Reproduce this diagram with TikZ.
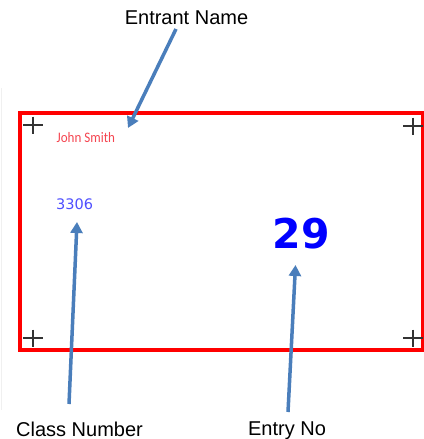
\documentclass[tikz,border=0pt]{standalone}
\usepackage{fontspec}
\setmainfont{Liberation Sans}
\newfontfamily\carlitofont{Carlito}
\newfontfamily\dejavufont{DejaVu Sans}
\usetikzlibrary{arrows.meta}
\definecolor{arrowblue}{HTML}{4A7EBB}
\definecolor{namered}{HTML}{F54550}
\definecolor{classblue}{HTML}{4F4FFF}
\definecolor{entryblue}{HTML}{0000FF}
\definecolor{crossgray}{HTML}{333333}
\tikzset{
  callout/.style={draw=arrowblue, line width=3.5pt, -{Triangle[width=12pt,length=11pt]}},
  labeltext/.style={font=\fontsize{20}{24}\selectfont, text=black, inner sep=0pt, anchor=base},
  crossmark/.style={draw=crossgray, line width=1.1pt},
  cardframe/.style={draw=red, line width=3.6pt},
}
\begin{document}
\begin{tikzpicture}[x=1pt,y=-1pt]
\useasboundingbox (0,0) rectangle (423,439);
\fill[white] (0,0) rectangle (423,439);
% faint screenshot edge
\draw[color=black!6, line width=0.8pt] (1.5,88) -- (1.5,410);
% card frame
\draw[cardframe] (20,113) rectangle (422.5,350);
% corner crosses
\foreach \cx/\cy in {33/125, 413/126, 33/338, 413/338}{
  \draw[crossmark] (\cx-10,\cy) -- (\cx+10,\cy);
  \draw[crossmark] (\cx,\cy-8.5) -- (\cx,\cy+8.5);
}
% card texts
\node[inner sep=0pt, anchor=base west, text=namered, xscale=0.9,
  font=\carlitofont\fontsize{14.5}{16}\selectfont] (name) at (56.5,142.3) {John Smith};
\node[inner sep=0pt, anchor=base west, text=classblue,
  font=\dejavufont\fontsize{14.5}{16}\selectfont] (class) at (56,209.5) {3306};
\node[inner sep=0pt, anchor=base, text=entryblue,
  font=\dejavufont\bfseries\fontsize{41}{44}\selectfont] (entry) at (301.5,248.5) {29};
% labels
\node[labeltext] (lblname) at (186.5,24.5) {Entrant Name};
\node[labeltext] (lblclass) at (79.5,436) {Class Number};
\node[labeltext] (lblentry) at (287,435) {Entry No};
% callout arrows
\coordinate (nameStart) at (176,29);
\coordinate (nameTip) at (128,128);
\coordinate (classStart) at (69,404);
\coordinate (classTip) at (77,222);
\coordinate (entryStart) at (288,412);
\coordinate (entryTip) at (295.5,265);
\draw[callout] (nameStart) -- (nameTip);
\draw[callout] (classStart) -- (classTip);
\draw[callout] (entryStart) -- (entryTip);
\end{tikzpicture}
\end{document}
